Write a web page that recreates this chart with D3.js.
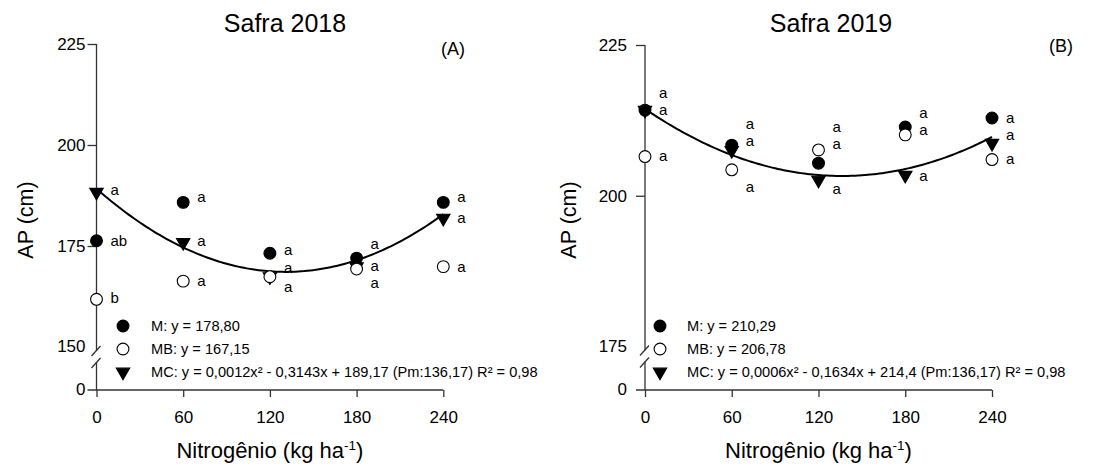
<!DOCTYPE html>
<html><head><meta charset="utf-8">
<script src="https://cdn.jsdelivr.net/npm/d3@7"></script>
<style>
body{margin:0;background:#fff}
svg{display:block}
text{font-family:"Liberation Sans",Arial,Helvetica,sans-serif;fill:#000}
</style>
</head><body>
<svg id="chart" width="1111" height="468"></svg>
<script>
// ---------- data ----------
const nitrogen = [0, 60, 120, 180, 240];
const xTickLabels = ["0", "60", "120", "180", "240"];
const seriesNames = ["M", "MB", "MC"];

// Safra 2018
const m2018  = [176.3, 185.8, 173.2, 172.0, 185.8];
const mb2018 = [161.8, 166.3, 167.4, 169.3, 169.9];
const mc2018 = [188.3, 175.9, 167.4, 169.9, 181.9];
const mLetters2018  = ["ab", "a", "a", "a", "a"];
const mbLetters2018 = ["b", "a", "a", "a", "a"];
const mcLetters2018 = ["a", "a", "a", "a", "a"];
const mLetterAt2018  = [176.3, 187.2, 174.0, 175.5, 187.2];
const mbLetterAt2018 = [162.1, 166.3, 164.7, 165.9, 169.7];
const mcLetterAt2018 = [188.7, 176.1, 169.4, 170.1, 181.9];
const mcCoef2018 = [0.0012, -0.3143, 189.17];
const yTicks2018 = [225, 200, 175];
const yBreak2018 = 150;
const legend2018 = ["M: y = 178,80", "MB: y = 167,15",
  "MC: y = 0,0012x\u00B2 - 0,3143x + 189,17 (Pm:136,17) R\u00B2 = 0,98"];

// Safra 2019
const m2019  = [214.2, 208.4, 205.4, 211.4, 212.9];
const mb2019 = [206.5, 204.3, 207.6, 210.1, 206.0];
const mc2019 = [214.2, 207.5, 202.6, 203.4, 208.7];
const mLetters2019  = ["a", "a", "a", "a", "a"];
const mbLetters2019 = ["a", "a", "a", "a", "a"];
const mcLetters2019 = ["a", "a", "a", "a", "a"];
const mLetterAt2019  = [217.0, 211.9, 211.4, 213.7, 212.9];
const mbLetterAt2019 = [206.5, 201.5, 208.5, 210.9, 206.1];
const mcLetterAt2019 = [214.2, 209.1, 201.1, 203.3, 210.1];
const mcCoef2019 = [0.0006, -0.1634, 214.4];
const yTicks2019 = [225, 200];
const yBreak2019 = 175;
const legend2019 = ["M: y = 210,29", "MB: y = 206,78",
  "MC: y = 0,0006x\u00B2 - 0,1634x + 214,4 (Pm:136,17) R\u00B2 = 0,98"];

// ---------- drawing ----------
const svg = d3.select("#chart");
const FONT = '"Liberation Sans",Arial,Helvetica,sans-serif';

function drawPanel(cfg) {
  const g = svg.append("g");
  const x = d3.scaleLinear().domain([0, 240]).range([cfg.x0, cfg.x1]);
  const y = d3.scaleLinear().domain([cfg.yBreak, 225]).range([cfg.breakPx, cfg.topPx]);
  const zeroPx = 390;
  const axisColor = "#333";

  // y axis (upper part) via d3 axis
  const yAxis = g.append("g").attr("transform", `translate(${cfg.x0},0)`)
    .call(d3.axisLeft(y).tickValues(cfg.yTicks).tickSize(9).tickPadding(cfg.yPad).tickFormat(d3.format("d")));
  yAxis.select(".domain").remove();
  yAxis.selectAll("line").attr("stroke", axisColor).attr("stroke-width", 1.3);
  yAxis.selectAll("text").style("font-family", FONT).style("font-size", "17px").attr("fill", "#000");

  // broken axis line
  g.append("line").attr("x1", cfg.x0).attr("x2", cfg.x0).attr("y1", cfg.topPx).attr("y2", cfg.breakPx + 4)
    .attr("stroke", axisColor).attr("stroke-width", 1.3);
  g.append("line").attr("x1", cfg.x0).attr("x2", cfg.x0).attr("y1", cfg.breakPx + 15).attr("y2", zeroPx)
    .attr("stroke", axisColor).attr("stroke-width", 1.3);
  [cfg.breakPx + 9, cfg.breakPx + 21].forEach(c => {
    g.append("line").attr("x1", cfg.x0 - 5).attr("y1", c).attr("x2", cfg.x0 + 4).attr("y2", c - 10)
      .attr("stroke", axisColor).attr("stroke-width", 1.3);
  });
  // break value label & zero label
  g.append("text").attr("x", cfg.x0 - 9 - cfg.yPad).attr("y", y(cfg.yBreak)).attr("dy", "0.32em")
    .attr("text-anchor", "end").style("font-size", "17px").text(cfg.yBreak);
  g.append("text").attr("x", cfg.x0 - 9 - cfg.yPad).attr("y", zeroPx).attr("dy", "0.32em")
    .attr("text-anchor", "end").style("font-size", "17px").text("0");

  // x axis
  const xAxis = g.append("g").attr("transform", `translate(0,${zeroPx})`)
    .call(d3.axisBottom(x).tickValues(nitrogen).tickSize(7).tickPadding(14)
      .tickFormat((d, i) => xTickLabels[i]));
  xAxis.select(".domain").remove();
  xAxis.selectAll("line").attr("stroke", axisColor).attr("stroke-width", 1.3);
  xAxis.selectAll("text").style("font-family", FONT).style("font-size", "17px").attr("fill", "#000");
  g.append("line").attr("x1", cfg.x0 - 9).attr("x2", x(240)).attr("y1", zeroPx).attr("y2", zeroPx)
    .attr("stroke", axisColor).attr("stroke-width", 1.3);

  // fitted curve for MC
  const [a, b, c] = cfg.coef;
  const xs = d3.range(0, 241, 2);
  const line = d3.line().x(d => x(d)).y(d => y(a * d * d + b * d + c)).curve(d3.curveBasis);
  g.append("path").datum(xs).attr("d", line).attr("fill", "none").attr("stroke", "#000").attr("stroke-width", 2);

  // points
  const circ = d3.symbol().type(d3.symbolCircle).size(110);
  const tri = d3.symbol().type(d3.symbolTriangle).size(78);
  const series = [
    { vals: cfg.mc, sym: tri, fill: "#000", rot: 180 },
    { vals: cfg.m, sym: circ, fill: "#000", rot: 0 },
    { vals: cfg.mb, sym: circ, fill: "#fff", rot: 0 }
  ];
  series.forEach(s => {
    g.selectAll(null).data(s.vals).enter().append("path")
      .attr("d", s.sym)
      .attr("transform", (d, i) => `translate(${x(nitrogen[i])},${y(d)}) rotate(${s.rot})`)
      .attr("fill", s.fill).attr("stroke", "#000").attr("stroke-width", 1.1);
  });

  // significance letters
  const letterSets = [[cfg.mL, cfg.mAt], [cfg.mbL, cfg.mbAt], [cfg.mcL, cfg.mcAt]];
  letterSets.forEach(([letters, at]) => {
    g.selectAll(null).data(letters).enter().append("text")
      .attr("x", (d, i) => x(nitrogen[i]) + 14)
      .attr("y", (d, i) => y(at[i]))
      .attr("dy", "0.32em").style("font-size", "15px").text(d => d);
  });

  // legend
  const rows = [326, 349, 372];
  const legSyms = [[circ, "#000", 0], [circ, "#fff", 0], [tri, "#000", 180]];
  cfg.legend.forEach((t, i) => {
    g.append("path").attr("d", legSyms[i][0])
      .attr("transform", `translate(${cfg.legX},${rows[i]}) rotate(${legSyms[i][2]})`)
      .attr("fill", legSyms[i][1]).attr("stroke", "#000").attr("stroke-width", 1.1);
    g.append("text").attr("x", cfg.legTextX).attr("y", rows[i]).attr("dy", "0.35em")
      .style("font-size", "14.6px").text(t);
  });

  // titles
  g.append("text").attr("x", cfg.titleX).attr("y", 32).attr("text-anchor", "middle")
    .style("font-size", "25px").text(cfg.title);
  g.append("text").attr("x", cfg.tagX).attr("y", cfg.tagY).attr("text-anchor", "middle")
    .attr("dy", "0.35em").style("font-size", "18px").text(cfg.tag);
  g.append("text").attr("transform", `translate(${cfg.yTitleX},220) rotate(-90)`)
    .attr("text-anchor", "middle").attr("dy", "0.35em").style("font-size", "21.5px").text("AP (cm)");
  const xt = g.append("text").attr("x", (cfg.x0 + cfg.x1) / 2).attr("y", 458)
    .attr("text-anchor", "middle").style("font-size", "22px");
  xt.append("tspan").text("Nitrogênio (kg ha");
  xt.append("tspan").attr("dy", "-8").style("font-size", "13.5px").text("-1");
  xt.append("tspan").attr("dy", "8").text(")");
}

drawPanel({
  x0: 96.5, x1: 443.3, topPx: 44, breakPx: 347, yBreak: yBreak2018, yTicks: yTicks2018, yPad: 2,
  m: m2018, mb: mb2018, mc: mc2018, coef: mcCoef2018,
  mL: mLetters2018, mbL: mbLetters2018, mcL: mcLetters2018,
  mAt: mLetterAt2018, mbAt: mbLetterAt2018, mcAt: mcLetterAt2018,
  legend: legend2018, legX: 123, legTextX: 151,
  title: "Safra 2018", titleX: 285, tag: "(A)", tagX: 453, tagY: 49, yTitleX: 25
});
drawPanel({
  x0: 645, x1: 992, topPx: 45, breakPx: 346.5, yBreak: yBreak2019, yTicks: yTicks2019, yPad: 9,
  m: m2019, mb: mb2019, mc: mc2019, coef: mcCoef2019,
  mL: mLetters2019, mbL: mbLetters2019, mcL: mcLetters2019,
  mAt: mLetterAt2019, mbAt: mbLetterAt2019, mcAt: mcLetterAt2019,
  legend: legend2019, legX: 660, legTextX: 687,
  title: "Safra 2019", titleX: 831, tag: "(B)", tagX: 1061, tagY: 46, yTitleX: 568
});
</script>
</body></html>
